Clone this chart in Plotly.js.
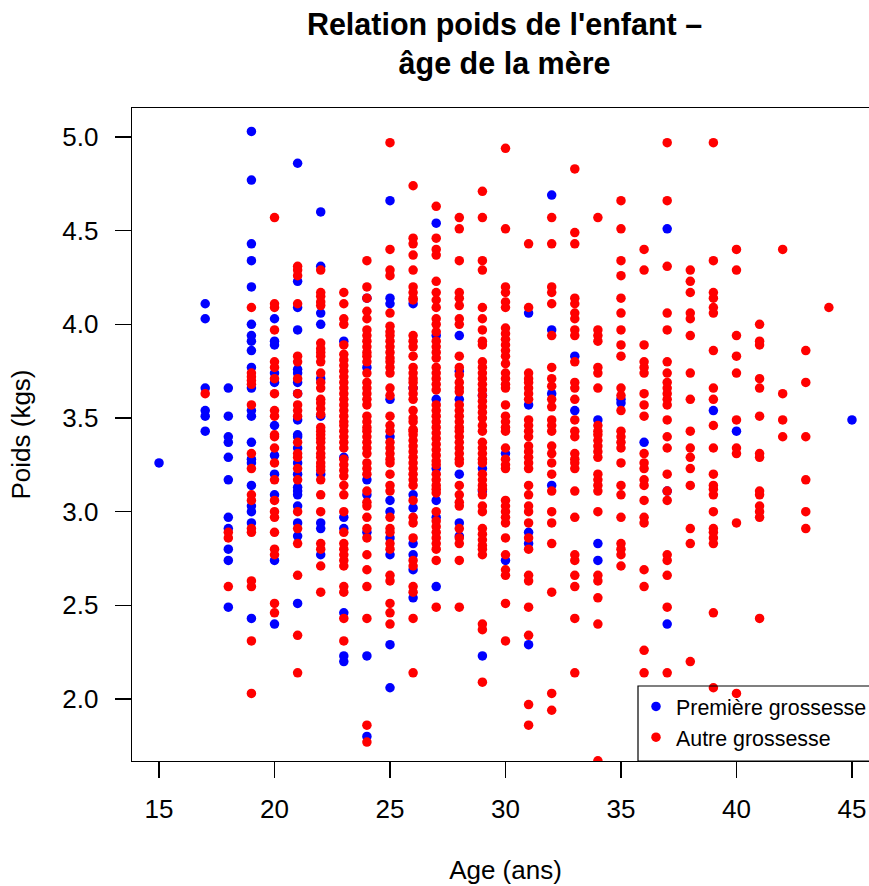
<!DOCTYPE html>
<html><head><meta charset="utf-8">
<script src="https://cdn.plot.ly/plotly-3.0.1.min.js"></script>
<style>html,body{margin:0;padding:0;background:#fff;overflow:hidden;width:869px;height:886px}</style>
</head><body><div id="chart"></div>
<script>
const ages = [15,17,18,19,20,21,22,23,24,25,26,27,28,29,30,31,32,33,34,35,36,37,38,39,40,41,42,43,44,45];
const firstPregnancy = [
/*15*/[3.26],
/*17*/[4.11,4.03,3.66,3.54,3.51,3.43],
/*18*/[3.66,3.51,3.40,3.37,3.29,3.17,2.97,2.91,2.80,2.74,2.49],
/*19*/[5.03,4.77,4.43,4.34,4.20,4.00,3.94,3.91,3.86,3.77,3.66,3.54,3.51,3.37,3.28,3.26,3.14,3.03,3.00,2.94,2.43],
/*20*/[4.03,3.91,3.89,3.74,3.69,3.46,3.30,3.20,3.09,2.74,2.40],
/*21*/[4.86,4.23,4.09,3.97,3.76,3.74,3.69,3.63,3.49,3.41,3.40,3.34,3.26,3.20,3.13,3.11,3.09,3.03,2.94,2.87,2.51],
/*22*/[4.60,4.31,4.06,4.00,3.71,3.51,3.20,2.94,2.91,2.77],
/*23*/[3.91,3.29,2.97,2.91,2.46,2.23,2.20],
/*24*/[4.14,3.77,3.17,3.09,2.89,2.23,1.80],
/*25*/[4.66,4.14,4.11,3.60,3.40,3.06,3.00,2.86,2.77,2.29,2.06],
/*26*/[4.11,3.66,3.09,3.02,2.83,2.77,2.69,2.54],
/*27*/[4.54,3.94,3.60,3.23,3.06,2.97,2.60],
/*28*/[3.94,3.75,3.60,3.20,2.94,2.87],
/*29*/[3.62,3.23,3.11,2.23],
/*30*/[3.31,2.74],
/*31*/[4.06,3.57,2.89,2.83,2.29],
/*32*/[4.69,3.97,3.63,3.14],
/*33*/[3.83,3.54],
/*34*/[3.49,2.83,2.74],
/*35*/[3.60,3.58],
/*36*/[3.37],
/*37*/[4.51,3.11,2.40],
/*38*/[],
/*39*/[3.54],
/*40*/[3.43],
/*41*/[],/*42*/[],/*43*/[],/*44*/[],
/*45*/[3.49]
];
const otherPregnancy = [
/*15*/[],
/*17*/[3.63],
/*18*/[2.89,2.86,2.60],
/*19*/[4.09,3.74,3.72,3.70,3.68,3.57,3.31,3.23,3.09,3.06,2.91,2.89,2.63,2.60,2.31,2.03],
/*20*/[4.57,4.11,4.09,3.97,3.80,3.77,3.71,3.63,3.54,3.51,3.41,3.40,3.34,3.26,3.17,3.06,3.00,2.97,2.89,2.80,2.77,2.51,2.46],
/*21*/[4.31,4.29,4.26,4.11,3.83,3.80,3.71,3.63,3.57,3.54,3.51,3.37,3.31,3.29,3.23,3.17,3.00,2.91,2.83,2.66,2.34,2.14],
/*22*/[4.29,4.17,4.15,4.12,4.10,3.90,3.87,3.85,3.83,3.80,3.74,3.69,3.66,3.60,3.58,3.55,3.52,3.45,3.43,3.41,3.39,3.37,3.34,3.31,3.29,3.26,3.24,3.22,3.17,3.09,3.00,2.83,2.80,2.71,2.57],
/*23*/[4.17,4.11,4.03,4.00,3.89,3.84,3.81,3.78,3.75,3.72,3.69,3.66,3.63,3.60,3.57,3.54,3.51,3.48,3.46,3.43,3.40,3.37,3.34,3.28,3.25,3.22,3.19,3.14,3.09,3.00,2.89,2.83,2.80,2.77,2.74,2.71,2.60,2.57,2.43,2.31],
/*24*/[4.34,4.20,4.14,4.07,4.03,3.97,3.94,3.91,3.88,3.85,3.83,3.80,3.74,3.69,3.66,3.63,3.60,3.57,3.51,3.48,3.45,3.43,3.40,3.37,3.34,3.31,3.26,3.23,3.20,3.11,3.05,3.03,2.97,2.91,2.86,2.77,2.69,2.60,2.43,1.86,1.77],
/*25*/[4.97,4.40,4.29,4.26,4.06,3.99,3.96,3.94,3.91,3.88,3.85,3.82,3.80,3.77,3.74,3.66,3.62,3.51,3.46,3.43,3.37,3.34,3.31,3.28,3.26,3.20,3.14,3.11,2.97,2.91,2.89,2.83,2.80,2.66,2.63,2.51,2.46,2.40],
/*26*/[4.74,4.46,4.43,4.37,4.29,4.20,4.17,4.14,4.13,3.94,3.91,3.88,3.83,3.77,3.74,3.71,3.69,3.66,3.63,3.60,3.54,3.50,3.48,3.43,3.44,3.41,3.38,3.35,3.32,3.29,3.26,3.23,3.20,3.17,3.14,3.06,2.97,2.94,2.86,2.74,2.71,2.60,2.57,2.43,2.14],
/*27*/[4.63,4.46,4.40,4.37,4.23,4.17,4.13,4.09,4.03,4.00,3.96,3.91,3.88,3.85,3.82,3.77,3.74,3.71,3.68,3.65,3.57,3.54,3.51,3.48,3.45,3.42,3.39,3.36,3.33,3.30,3.27,3.25,3.20,3.17,3.14,3.12,3.10,3.00,2.95,2.92,2.89,2.86,2.83,2.80,2.74,2.49],
/*28*/[4.57,4.51,4.34,4.17,4.14,4.10,4.03,4.00,3.83,3.77,3.73,3.69,3.66,3.64,3.57,3.54,3.51,3.48,3.45,3.43,3.40,3.37,3.34,3.31,3.28,3.26,3.14,3.09,3.05,3.03,2.91,2.86,2.83,2.74,2.49],
/*29*/[4.71,4.57,4.34,4.29,4.09,4.03,3.97,3.91,3.89,3.80,3.77,3.74,3.71,3.68,3.65,3.62,3.59,3.56,3.53,3.50,3.46,3.43,3.37,3.34,3.31,3.28,3.26,3.20,3.17,3.14,3.12,3.09,3.03,3.00,2.91,2.88,2.85,2.82,2.80,2.77,2.40,2.37,2.09],
/*30*/[4.94,4.51,4.20,4.17,4.12,4.09,3.98,3.95,3.92,3.89,3.86,3.83,3.79,3.74,3.71,3.68,3.66,3.57,3.51,3.48,3.45,3.43,3.34,3.28,3.25,3.23,3.06,3.03,3.00,2.97,2.94,2.86,2.77,2.69,2.66,2.51,2.31],
/*31*/[4.43,4.09,3.74,3.71,3.69,3.66,3.63,3.60,3.49,3.46,3.43,3.40,3.35,3.32,3.29,3.26,3.23,3.14,3.09,3.03,3.00,2.94,2.86,2.80,2.66,2.63,2.49,2.34,1.97,1.86],
/*32*/[4.57,4.43,4.20,4.17,4.11,3.94,3.77,3.71,3.67,3.60,3.56,3.49,3.46,3.43,3.35,3.31,3.26,3.20,3.11,3.00,2.94,2.83,2.57,2.03,1.94],
/*33*/[4.83,4.49,4.43,4.14,4.11,4.06,4.03,3.97,3.94,3.80,3.69,3.66,3.60,3.49,3.43,3.40,3.31,3.28,3.26,3.23,3.11,2.97,2.77,2.74,2.66,2.60,2.43,2.14],
/*34*/[4.57,3.97,3.94,3.91,3.77,3.74,3.66,3.46,3.43,3.41,3.38,3.35,3.32,3.29,3.20,3.17,3.14,3.11,3.00,2.66,2.63,2.54,2.40,1.67],
/*35*/[4.66,4.51,4.34,4.26,4.14,4.06,3.97,3.89,3.83,3.66,3.62,3.54,3.43,3.40,3.37,3.34,3.26,3.14,3.09,2.97,2.83,2.80,2.77,2.71],
/*36*/[4.40,4.29,3.89,3.80,3.77,3.74,3.63,3.57,3.51,3.31,3.26,3.23,3.17,3.14,3.06,2.97,2.94,2.69,2.60,2.26,2.14],
/*37*/[4.97,4.66,4.31,4.06,3.97,3.80,3.74,3.69,3.66,3.63,3.60,3.57,3.49,3.40,3.34,3.20,3.11,3.06,2.77,2.74,2.66,2.49,2.14],
/*38*/[4.29,4.23,4.17,4.06,4.03,3.94,3.74,3.60,3.43,3.34,3.29,3.23,3.14,2.91,2.83,2.20],
/*39*/[4.97,4.34,4.17,4.14,4.09,4.06,3.86,3.66,3.60,3.46,3.34,3.20,3.14,3.12,3.09,3.00,2.91,2.89,2.86,2.83,2.46,2.06],
/*40*/[4.40,4.29,3.94,3.83,3.74,3.49,3.34,3.31,2.94,2.03],
/*41*/[4.00,3.91,3.89,3.71,3.66,3.51,3.31,3.29,3.11,3.09,3.03,3.00,2.97,2.43],
/*42*/[4.40,3.63,3.49,3.40],
/*43*/[3.86,3.69,3.40,3.17,3.00,2.91],
/*44*/[4.09],
/*45*/[]
];
const legendLabels = ["Première grossesse","Autre grossesse"];
const xTicks = [15,20,25,30,35,40,45];
const yTicks = [2,2.5,3,3.5,4,4.5,5];
const yTickText = ["2.0","2.5","3.0","3.5","4.0","4.5","5.0"];

function flatten(groups){
  const x=[],y=[];
  groups.forEach((g,i)=>g.forEach(v=>{x.push(ages[i]);y.push(v);}));
  return {x,y};
}
const a=flatten(firstPregnancy), b=flatten(otherPregnancy);
const font="'Liberation Sans', Arial, sans-serif";
const axisBase={showgrid:false,zeroline:false,showline:true,mirror:true,linecolor:'#000',linewidth:1.3,
  ticks:'outside',ticklen:16,tickwidth:1.2,tickcolor:'#000',tickfont:{family:font,size:26,color:'#000'}};
Plotly.newPlot('chart',[
 {type:'scatter',mode:'markers',name:legendLabels[0],x:a.x,y:a.y,marker:{color:'#0000ff',size:9.5}},
 {type:'scatter',mode:'markers',name:legendLabels[1],x:b.x,y:b.y,marker:{color:'#ff0000',size:9.5}}
],{
 width:879,height:886,paper_bgcolor:'#fff',plot_bgcolor:'#fff',
 margin:{l:132,r:0,t:108,b:125,autoexpand:false},
 font:{family:font,color:'#000'},
 title:{text:"<b>Relation poids de l'enfant –<br>âge de la mère</b>",font:{family:font,size:30.5,color:'#000'},
   x:0.574,xref:'container',xanchor:'center',y:0.961,yref:'container',yanchor:'top'},
 xaxis:Object.assign({},axisBase,{range:[13.83,46.17],tickvals:xTicks,ticktext:xTicks.map(String),ticklabelstandoff:8,
   title:{text:'Age (ans)',font:{family:font,size:26,color:'#000'},standoff:38}}),
 yaxis:Object.assign({},axisBase,{range:[1.669,5.155],tickvals:yTicks,ticktext:yTickText,ticklabelstandoff:11,
   title:{text:'Poids (kgs)',font:{family:font,size:26,color:'#000'},standoff:24}}),
 legend:{x:636/879,xref:'container',xanchor:'left',y:1-686/886,yref:'container',yanchor:'top',
   bgcolor:'rgba(0,0,0,0)',borderwidth:0,font:{family:font,size:21.4,color:'#000'},traceorder:'normal',itemclick:false},
 shapes:[{type:'rect',xref:'paper',yref:'paper',x0:(638-132)/747,x1:(890-132)/747,y0:0,y1:75/653,
   line:{color:'#000',width:1.2},fillcolor:'rgba(0,0,0,0)',layer:'above'}],
 showlegend:true
},{displayModeBar:false,staticPlot:true});
</script></body></html>
